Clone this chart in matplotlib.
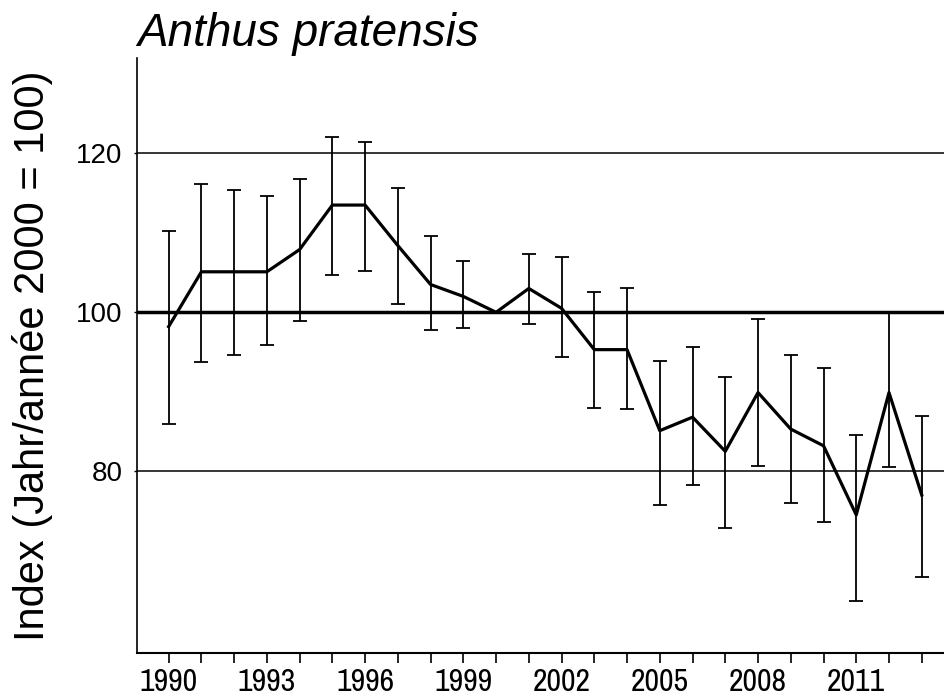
import numpy as np
import matplotlib
matplotlib.use('Agg')
from matplotlib import pyplot as plt
from matplotlib import font_manager

years = np.arange(1990, 2014)
index = [98.2, 105.1, 105.1, 105.1, 107.9, 113.5, 113.5, 108.4, 103.5, 102.0,
         100.0, 103.0, 100.5, 95.3, 95.3, 85.1, 86.8, 82.5, 89.9, 85.3,
         83.2, 74.5, 89.9, 77.0]
upper = [110.2, 116.1, 115.4, 114.6, 116.8, 122.1, 121.4, 115.6, 109.6, 106.4,
         np.nan, 107.4, 107.0, 102.5, 103.0, 93.9, 95.6, 91.8, 99.2, 94.6,
         93.0, 84.5, 100.0, 86.9]
lower = [85.9, 93.7, 94.6, 95.9, 98.9, 104.7, 105.2, 101.1, 97.8, 98.0,
         np.nan, 98.5, 94.4, 88.0, 87.8, 75.8, 78.2, 72.9, 80.7, 76.0,
         73.6, 63.6, 80.5, 66.7]
ref_lines = [80, 100, 120]
year_labels = [str(y) if (y - 1990) % 3 == 0 else '' for y in years]

# look for a narrow face for the year labels
fonts = font_manager.fontManager.ttflist
narrow = None
for f in fonts:
    if 'Narrow' in f.name or 'Condensed' in f.name:
        narrow = f.name
        break
if narrow is None:
    for f in fonts:
        if f.stretch not in ('normal', 500, 'medium') and f.style == 'normal':
            narrow = f.name
            break
tick_font = dict(fontfamily=narrow, fontstretch='condensed', fontsize=23) if narrow else \
    dict(fontfamily='Liberation Sans', fontsize=20)

plt.rcParams['font.family'] = ['Liberation Sans', 'DejaVu Sans']

index = np.array(index)
upper = np.array(upper)
lower = np.array(lower)
err = np.vstack([index - lower, upper - index])

fig = plt.figure(figsize=(9.44, 7.0), dpi=100)
ax = fig.add_axes([0.145, 0.067, 0.855, 0.850])

# reference lines
for v in ref_lines:
    ax.axhline(v, color='black', linewidth=2.5 if v == 100 else 1.1, zorder=1)

ax.errorbar(years, index, yerr=err, fmt='none', ecolor='black',
            elinewidth=1.3, capsize=4.7, capthick=1.3, zorder=2)
ax.plot(years, index, color='black', linewidth=2.3, zorder=3)

ax.set_xlim(1989.03, 2013.68)
ax.set_ylim(57.1, 132.0)

ax.spines['top'].set_visible(False)
ax.spines['right'].set_visible(False)
ax.spines['left'].set_linewidth(1.2)
ax.spines['bottom'].set_linewidth(1.5)

ax.set_xticks(years)
ax.set_xticklabels(year_labels, **tick_font)
ax.tick_params(axis='x', direction='out', length=7, width=1.2, pad=4)
ax.set_yticks(ref_lines)
ax.set_yticklabels([str(v) for v in ref_lines], fontsize=20)
ax.tick_params(axis='y', direction='out', length=2.5, width=1.0, pad=8)

ax.set_ylabel('Index (Jahr/année 2000 = 100)', fontsize=30)
ax.yaxis.set_label_coords(-0.104, 0.5)
ax.set_title('Anthus pratensis', fontsize=33, fontstyle='italic', loc='left', pad=9)

fig.savefig('out.png', dpi=100)
